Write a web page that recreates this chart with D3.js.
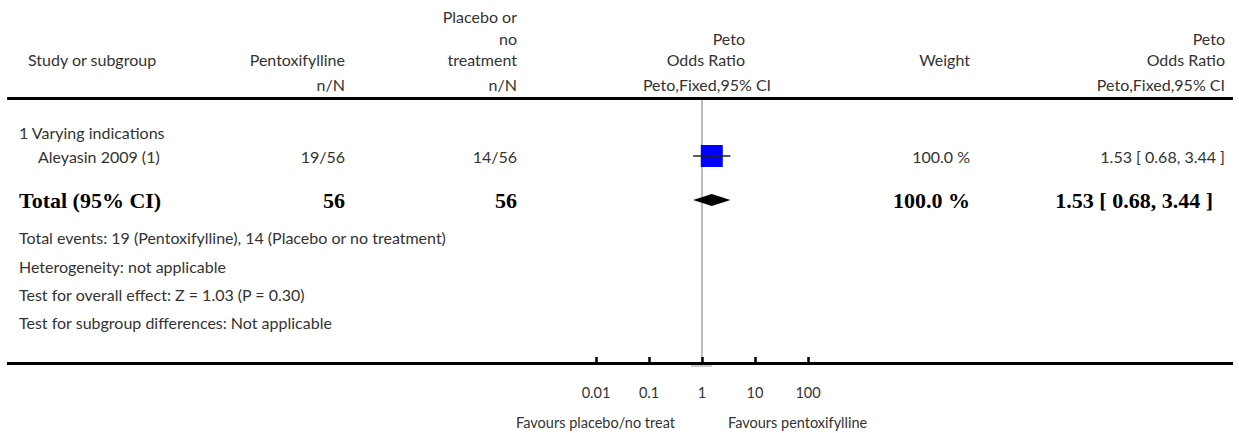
<!DOCTYPE html>
<html lang="en">
<head>
  <meta charset="UTF-8">
  <script src="https://d3js.org/d3.v7.min.js"></script>
  <style>
    body { margin: 0; background: white; }
    text { font-family: Lato, "Open Sans", sans-serif; font-size: 16px; fill: #333; }
    .bold { font-family: "Liberation Serif", serif; font-weight: bold; font-size: 22px; fill: #000; }
    .small { font-size: 14.5px; }
  </style>
</head>
<body>
  <script>
    // study rows
    const studies = ["Aleyasin 2009 (1)"];
    const eventsTreat = [19], totalTreat = [56];
    const eventsCtrl = [14], totalCtrl = [56];
    const oddsRatio = [1.53], ciLow = [0.68], ciHigh = [3.44];
    const weights = [100.0];

    // pooled result
    const pooled = { or: 1.53, lo: 0.68, hi: 3.44, nTreat: 56, nCtrl: 56, weight: 100.0 };

    const tickValues = [0.01, 0.1, 1, 10, 100];
    const tickLabels = ["0.01", "0.1", "1", "10", "100"];

    const footnotes = [
      "Total events: 19 (Pentoxifylline), 14 (Placebo or no treatment)",
      "Heterogeneity: not applicable",
      "Test for overall effect: Z = 1.03 (P = 0.30)",
      "Test for subgroup differences: Not applicable"
    ];

    const width = 1239, height = 433;
    const svg = d3.select("body").append("svg").attr("width", width).attr("height", height);

    const x = d3.scaleLog().domain([0.01, 100]).range([596, 808]);
    const fmt = d3.format(".2f");

    const colStudy = 28, colTreat = 345, colCtrl = 517, colWeight = 970, colCI = 1225;

    function label(txt, xp, yp, anchor, cls) {
      return svg.append("text").attr("x", xp).attr("y", yp)
        .attr("text-anchor", anchor || "start")
        .attr("dominant-baseline", "central")
        .attr("class", cls || null)
        .text(txt);
    }

    // header
    label("Study or subgroup", colStudy, 59);
    label("Pentoxifylline", colTreat, 59, "end");
    label("n/N", colTreat, 84, "end");
    label("Placebo or", colCtrl, 16, "end");
    label("no", colCtrl, 38, "end");
    label("treatment", colCtrl, 59, "end");
    label("n/N", colCtrl, 84, "end");
    label("Peto", 745, 38, "end");
    label("Odds Ratio", 745, 59, "end");
    label("Peto,Fixed,95% CI", 707, 84, "middle");
    label("Weight", colWeight, 59, "end");
    label("Peto", colCI, 38, "end");
    label("Odds Ratio", colCI, 59, "end");
    label("Peto,Fixed,95% CI", colCI, 84, "end");

    // header rule
    svg.append("rect").attr("x", 7).attr("y", 97).attr("width", 1226).attr("height", 3).attr("fill", "#000");

    // line of no effect
    svg.append("line").attr("x1", x(1)).attr("x2", x(1)).attr("y1", 100).attr("y2", 363)
      .attr("stroke", "#bbb").attr("stroke-width", 2);
    svg.append("line").attr("x1", x(1) - 11).attr("x2", x(1) + 10).attr("y1", 366).attr("y2", 366)
      .attr("stroke", "#bbb").attr("stroke-width", 1.5);

    // subgroup
    label("1 Varying indications", 19, 132);

    const rowY = [156];
    studies.forEach((s, i) => {
      const y = rowY[i];
      label(s, 38, y);
      label(eventsTreat[i] + "/" + totalTreat[i], colTreat, y, "end");
      label(eventsCtrl[i] + "/" + totalCtrl[i], colCtrl, y, "end");
      label(weights[i].toFixed(1) + " %", colWeight, y, "end");
      label(fmt(oddsRatio[i]) + " [ " + fmt(ciLow[i]) + ", " + fmt(ciHigh[i]) + " ]", colCI, y, "end");
      const side = 22;
      svg.append("rect")
        .attr("x", x(oddsRatio[i]) - side / 2).attr("y", y - side / 2)
        .attr("width", side).attr("height", side).attr("fill", "#0000ff");
      svg.append("line").attr("x1", x(ciLow[i])).attr("x2", x(ciHigh[i]))
        .attr("y1", y).attr("y2", y).attr("stroke", "#222").attr("stroke-width", 1.5);
      svg.append("line").attr("x1", x(oddsRatio[i])).attr("x2", x(oddsRatio[i]))
        .attr("y1", y - 3).attr("y2", y + 3).attr("stroke", "#222").attr("stroke-width", 1);
    });

    // total row
    const ty = 200;
    label("Total (95% CI)", 19, ty, "start", "bold");
    label(pooled.nTreat, colTreat, ty, "end", "bold");
    label(pooled.nCtrl, colCtrl, ty, "end", "bold");
    label(pooled.weight.toFixed(1) + " %", colWeight, ty, "end", "bold");
    label(fmt(pooled.or) + " [ " + fmt(pooled.lo) + ", " + fmt(pooled.hi) + " ]", 1213, ty, "end", "bold");
    svg.append("path")
      .attr("d", `M${x(pooled.lo)},${ty} L${x(pooled.or)},${ty - 6} L${x(pooled.hi)},${ty} L${x(pooled.or)},${ty + 6} Z`)
      .attr("fill", "#000");

    const footY = [237, 266, 294, 322];
    footnotes.forEach((f, i) => label(f, 19, footY[i]));

    // axis
    svg.append("rect").attr("x", 7).attr("y", 362).attr("width", 1226).attr("height", 3).attr("fill", "#000");
    const axis = d3.axisTop(x).tickValues(tickValues).tickSize(6).tickFormat("");
    const ag = svg.append("g").attr("transform", "translate(0,363)").call(axis);
    ag.select(".domain").remove();
    ag.selectAll(".tick line").attr("stroke", "#000").attr("stroke-width", 2.5);
    tickValues.forEach((v, i) => label(tickLabels[i], x(v), 392, "middle", "small"));

    label("Favours placebo/no treat", 675, 422, "end", "small");
    label("Favours pentoxifylline", 728, 422, "start", "small");
  </script>
</body>
</html>
